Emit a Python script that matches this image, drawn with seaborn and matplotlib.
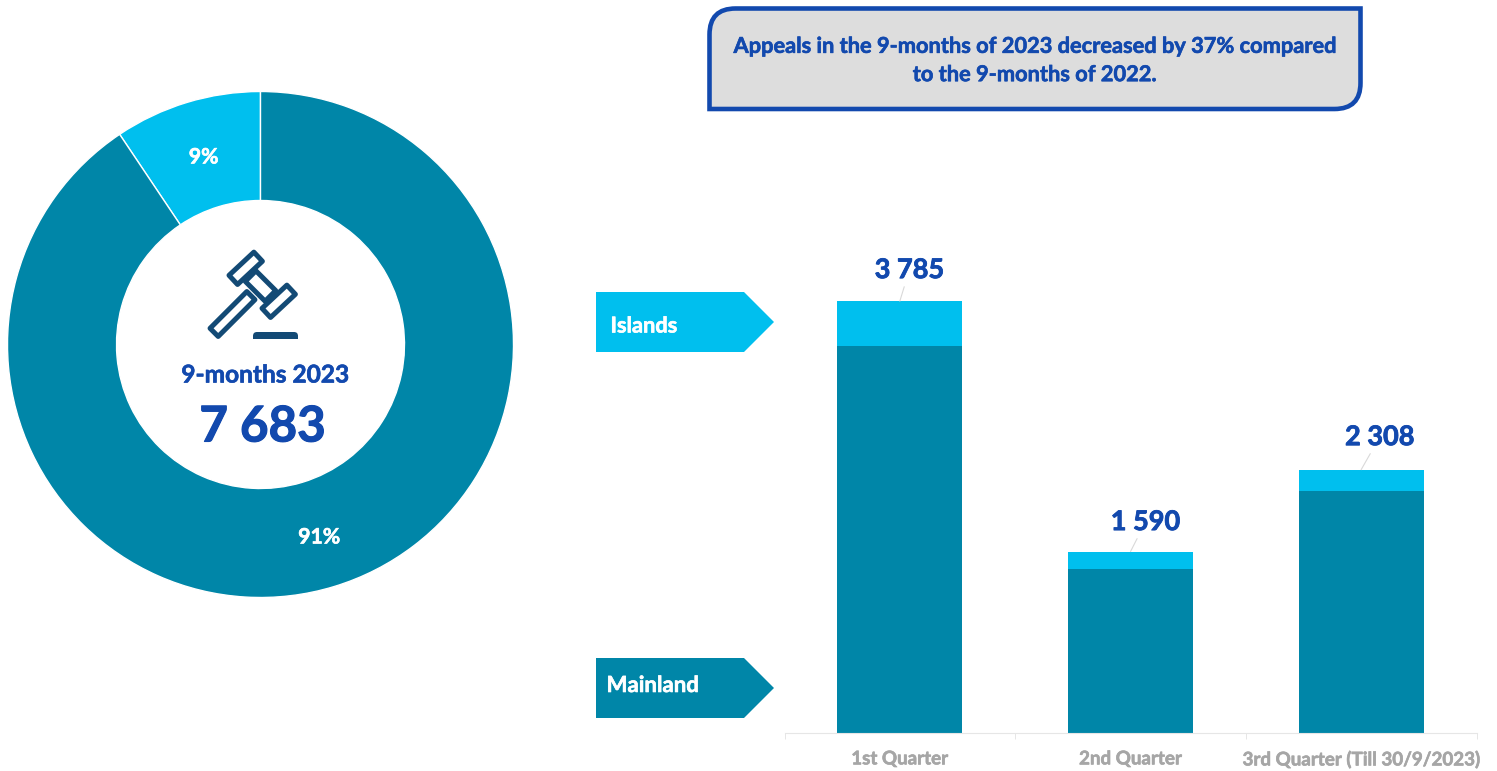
import numpy as np
import pandas as pd
import matplotlib
matplotlib.use("Agg")
import matplotlib.pyplot as plt
import matplotlib.patheffects as pe
import seaborn as sns
from matplotlib.patches import Polygon, PathPatch, FancyBboxPatch
from matplotlib.path import Path

# ---- data ----
quarters = ["1st Quarter", "2nd Quarter", "3rd Quarter (Till 30/9/2023)"]
mainland = [3391, 1437, 2120]
islands = [394, 153, 188]
totals = ["3 785", "1 590", "2 308"]
share_labels = ["Islands", "Mainland"]
share_values = [722, 6961]
center_title = "9-months 2023"
center_total = "7 683"
callout_text = "Appeals in the 9-months of 2023 decreased by 37% compared\nto the 9-months of 2022."

# ---- style ----
TEAL = "#0086A8"
SKY = "#00BFEE"
BLUE = "#1249AE"
GREY = "#A6A6A6"
NAVY = "#134A75"
W, H = 1497, 771
sns.set_theme(style="white")
plt.rcParams["font.family"] = ["Lato", "DejaVu Sans"]
plt.rcParams["font.weight"] = "bold"

fig = plt.figure(figsize=(W / 100, H / 100), dpi=100, facecolor="white")

def px_axes(l, t, r, b, **kw):
    return fig.add_axes([l / W, 1 - b / H, (r - l) / W, (b - t) / H], **kw)

def thicken(t, color, w=0.45):
    t.set_path_effects([pe.withStroke(linewidth=w, foreground=color)])
    return t

# ---- stacked bars ----
ax = px_axes(784.5, 250, 1476.5, 733)
df = pd.DataFrame({"quarter": quarters, "mainland": mainland, "islands": islands})
df["total"] = df["mainland"] + df["islands"]
sns.barplot(data=df, x="quarter", y="total", color=SKY, saturation=1, width=0.541, linewidth=0, ax=ax)
sns.barplot(data=df, x="quarter", y="mainland", color=TEAL, saturation=1, width=0.541, linewidth=0, ax=ax)
ax.set_xlim(-0.5, 2.5)
ax.set_ylim(0, 483 / 0.1141)
ax.set_xlabel("")
ax.set_ylabel("")
ax.set_yticks([])
for s in ["top", "left", "right"]:
    ax.spines[s].set_visible(False)
ax.spines["bottom"].set_color("#E6E6E6")
ax.spines["bottom"].set_linewidth(0.8)
ax.set_xticks([0, 1, 2], quarters)
ax.set_xticks([-0.5, 0.5, 1.5, 2.5], minor=True)
ax.tick_params(axis="x", which="major", length=0, pad=12.5, labelsize=13.5, labelcolor=GREY)
ax.tick_params(axis="x", which="minor", length=4, width=0.7, color="#E6E6E6", bottom=True)
for lab in ax.get_xticklabels():
    lab.set_fontweight("bold")
    thicken(lab, GREY)

label_dx = [9.5, 15, 18.5]
label_dy = [31, 29.5, 32.5]
for i, txt in enumerate(totals):
    a = ax.annotate(txt, xy=(i, df["total"][i]), xycoords="data",
                    xytext=(label_dx[i] * 0.72, label_dy[i] * 0.72), textcoords="offset points",
                    ha="center", va="center", fontsize=19.5, fontweight="bold", color=BLUE,
                    arrowprops=dict(arrowstyle="-", color="#D9D9D9", lw=0.8, shrinkA=1, shrinkB=0))
    thicken(a, BLUE, 0.6)

# ---- donut ----
ax_d = px_axes(7.5, 91.5, 513.5, 597.5)
ax_d.set_aspect("equal")
wedges, _, autotexts = ax_d.pie(
    share_values, colors=[SKY, TEAL], startangle=90, counterclock=True, radius=1,
    autopct="%.0f%%", pctdistance=0.785,
    wedgeprops=dict(width=109 / 253, edgecolor="white", linewidth=1),
    textprops=dict(color="white", fontsize=15.3, fontweight="bold"))
for t in autotexts:
    x, y = t.get_position()
    t.set_position((x + 1 / 253, y - 3 / 253))
    thicken(t, "white")
ax_d.set_xlim(-1, 1)
ax_d.set_ylim(-1, 1)

# ---- overlay in pixel coordinates ----
ov = fig.add_axes([0, 0, 1, 1], facecolor="none")
ov.set_xlim(0, W)
ov.set_ylim(H, 0)
ov.axis("off")

thicken(ov.text(265, 375, center_title, ha="center", va="center", fontsize=17.6, fontweight="bold", color=BLUE), BLUE)
thicken(ov.text(262.5, 427, center_total, ha="center", va="center", fontsize=35.5, fontweight="bold", color=BLUE), BLUE, 0.8)

# callout with two rounded diagonal corners
x0, x1, y0, y1, r = 709.5, 1360.5, 8.5, 109, 26
verts = [(x0 + r, y0), (x1, y0), (x1, y1 - r), (x1, y1), (x1 - r, y1), (x0, y1), (x0, y0 + r), (x0, y0), (x0 + r, y0), (x0 + r, y0)]
codes = [Path.MOVETO, Path.LINETO, Path.LINETO, Path.CURVE3, Path.CURVE3, Path.LINETO, Path.LINETO, Path.CURVE3, Path.CURVE3, Path.CLOSEPOLY]
ov.add_patch(PathPatch(Path(verts, codes), facecolor="#DDDDDD", edgecolor=BLUE, linewidth=3.3))
thicken(ov.text(1034.5, 60.5, callout_text, ha="center", va="center", fontsize=15.7, fontweight="bold",
                color=BLUE, linespacing=1.43), BLUE)

# pentagon labels
def pentagon(top, bottom, color, text, tx, ty, size):
    mid = (top + bottom) / 2
    ov.add_patch(Polygon([(596, top), (744, top), (774, mid), (744, bottom), (596, bottom)],
                         closed=True, facecolor=color, edgecolor="none"))
    thicken(ov.text(tx, ty, text, ha="left", va="center", fontsize=size, fontweight="bold", color="white"), "white")

pentagon(292, 352, SKY, share_labels[0], 610.5, 326, 15.7)
pentagon(658, 718, TEAL, share_labels[1], 606.5, 685.5, 16)

# gavel icon
def rot_rect(cx, cy, length, width, deg):
    a = np.radians(deg)
    u = np.array([np.cos(a), np.sin(a)]) * length / 2
    v = np.array([-np.sin(a), np.cos(a)]) * width / 2
    c = np.array([cx, cy])
    return [c + u + v, c + u - v, c - u - v, c - u + v]

def gavel_part(cx, cy, length, width, deg):
    ov.add_patch(Polygon(rot_rect(cx, cy, length, width, deg), closed=True, facecolor="white",
                         edgecolor=NAVY, linewidth=3.6, joinstyle="round"))

gavel_part(232.5, 314, 52, 11.5, -45)   # handle
gavel_part(260.5, 286, 28, 15, 45)      # neck
gavel_part(245.7, 268.3, 34, 12.5, -43) # upper head
gavel_part(278.7, 301.3, 34, 12.5, -43) # lower head
ov.add_patch(FancyBboxPatch((253, 332), 45, 12, boxstyle="round,pad=0,rounding_size=4",
                            facecolor=NAVY, edgecolor="none"))
ov.add_patch(Polygon([(251, 339.3), (300, 339.3), (300, 346), (251, 346)], closed=True,
                     facecolor="white", edgecolor="none"))

fig.savefig("out.png", dpi=100)
